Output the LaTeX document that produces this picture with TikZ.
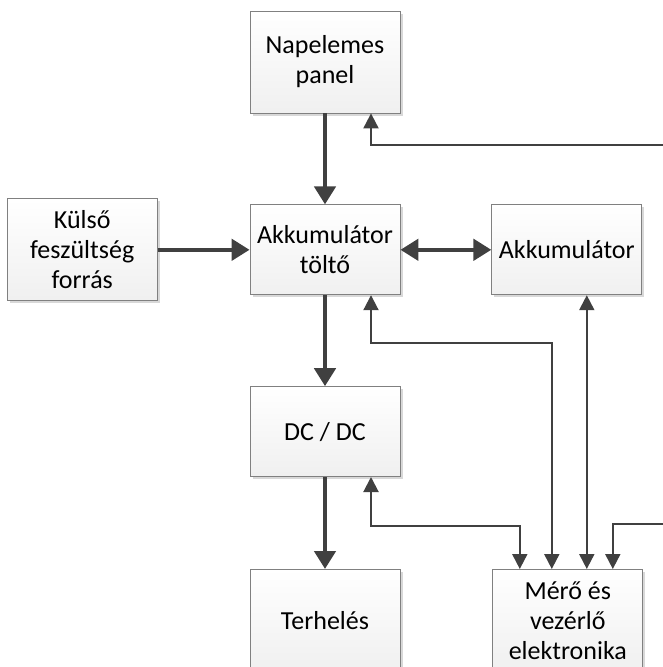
\documentclass[tikz,border=0pt]{standalone}
\usepackage{fontspec}
\setmainfont{Carlito}
\usetikzlibrary{positioning, arrows.meta, shadows}

\begin{document}
\begin{tikzpicture}[x=1pt, y=-1pt,
  block/.style={rectangle, draw=black!50, line width=0.8pt, top color=white, bottom color=black!6,
    drop shadow={shadow xshift=2.5pt, shadow yshift=-2.5pt, fill=black!30, opacity=0.5},
    minimum width=150pt, minimum height=90pt, inner sep=1pt, align=center,
    font=\fontsize{26}{30}\selectfont},
  tall/.style={minimum height=102pt},
  power/.style={line width=4.5pt, draw=black!75, >={Triangle[length=18pt,width=21pt]}, ->},
  signal/.style={line width=2pt, draw=black!75, >={Triangle[length=15pt,width=15pt]}, ->}]

  \useasboundingbox (0,0) rectangle (663,667);

  \node[block, tall] (panel) at (325,62) {Napelemes\\panel};
  \node[block, below=91pt of panel] (tolto) {Akkumulátor\\töltő};
  \node[block, tall, left=92pt of tolto] (kulso) {Külső\\feszültség\\forrás};
  \node[block, right=91pt of tolto] (akku) {Akkumulátor};
  \node[block, below=91pt of tolto] (dcdc) {DC / DC};
  \node[block, tall, below=92pt of dcdc] (terheles) {Terhelés};
  \node[block, tall, right=92pt of terheles] (mero) {Mérő és\\vezérlő\\elektronika};

  \coordinate (solar in) at (663,145);
  \coordinate (ctrl in) at (663,524);

  % power path
  \draw[power] (panel) -- (tolto);
  \draw[power] (kulso) -- (tolto);
  \draw[power, <->] (tolto) -- (akku);
  \draw[power] (tolto) -- (dcdc);
  \draw[power] (dcdc) -- (terheles);

  % measuring / control lines
  \draw[signal] (solar in) -| ([xshift=46pt]panel.south);
  \draw[signal, <->] ([xshift=46pt]tolto.south) -- ++(0,48) -| ([xshift=-16pt]mero.north);
  \draw[signal, <->] ([xshift=20pt]akku.south) -- ([xshift=20pt]akku.south |- mero.north);
  \draw[signal, <->] ([xshift=46pt]dcdc.south) -- ++(0,49) -| ([xshift=-48pt]mero.north);
  \draw[signal] (ctrl in) -| ([xshift=45pt]mero.north);
\end{tikzpicture}
\end{document}
